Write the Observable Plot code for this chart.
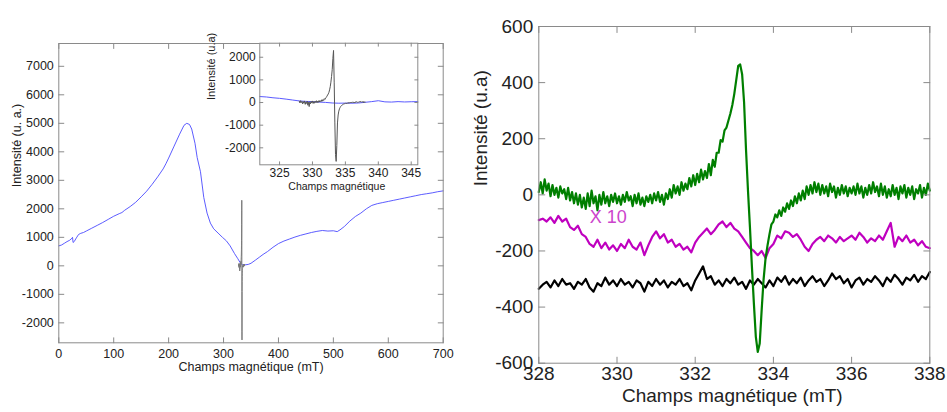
<!DOCTYPE html>
<html><head><meta charset="utf-8">
<script src="https://cdn.jsdelivr.net/npm/d3@7"></script>
<script src="https://cdn.jsdelivr.net/npm/@observablehq/plot@0.6"></script>
<style>
html,body{margin:0;padding:0;background:#fff;}
#wrap{position:relative;width:947px;height:412px;overflow:hidden;}
#wrap > div{position:absolute;}
</style></head><body>
<div id="wrap"><div id="main" style="left:0;top:0"></div><div id="inset" style="left:200px;top:0"></div><div id="right" style="left:460px;top:0"></div></div>
<script>
// ---------- Left panel: broad spectrum (blue) ----------
const blueField = [0,5,10,15,20,24,25,26,28,32,36,40,45,50,60,70,80,90,100,110,115,120,130,140,150,160,170,180,190,195,200,210,220,228,233,238,242,248,252,258,264,270,276,282,290,298,305,312,320,326,330,334,338,345,350,358,365,372,380,390,400,410,420,430,440,450,460,470,480,490,500,507,512,520,530,540,550,560,570,580,590,600,610,620,630,640,650,660,670,680,690,700];
const blueIntensity = [700,730,790,850,900,970,1000,820,850,980,1100,1140,1170,1220,1320,1420,1520,1630,1740,1830,1870,1950,2080,2230,2420,2620,2860,3120,3400,3580,3780,4200,4620,4930,5000,4960,4800,4300,3800,3300,2400,1850,1500,1300,1150,1000,880,700,430,250,120,40,30,50,90,200,300,400,500,650,780,870,940,1010,1070,1120,1170,1210,1240,1220,1230,1200,1260,1380,1570,1730,1850,2000,2120,2180,2220,2260,2300,2340,2380,2420,2460,2500,2530,2560,2600,2630];

// ---------- Inset: zoom of broad line (blue) around 322-346 mT ----------
const insetBlueField = [322,323,324,325,326,327,328,329,330,331,332,333,334,335,336,337,338,339,340,341,342,343,344,345,346];
const insetBlueIntensity = [265,245,210,185,150,110,70,50,40,20,5,-20,-30,-25,-30,-20,10,40,80,30,20,40,25,35,40];

// ---------- Narrow EPR signal (gray), 328-338 mT, step 0.1 ----------
const signalStart = 328, signalStep = 0.1;
const signalIntensity = [60,-20,80,0,50,-60,40,-30,70,-80,20,-40,60,-120,10,-180,30,-60,50,-20,70,-40,40,-30,60,0,80,-10,60,10,90,20,80,40,120,60,130,90,170,140,200,230,280,330,380,450,560,700,900,1150,1450,1950,2300,900,-900,-2300,-2600,-1900,-900,-550,-380,-280,-220,-170,-140,-110,-90,-70,-60,-50,-40,-20,-50,-10,-40,0,-30,10,-20,20,-10,30,0,20,-20,30,10,40,0,30,10,40,20,50,10,40,20,50,-10,30,20];

// ---------- Right panel ----------
const greenStart = 328, greenStep = 0.05;
const greenIntensity = [10,45,5,55,15,40,-5,35,0,25,-10,30,5,20,-15,25,-20,10,-30,5,
-35,0,-45,-10,-50,5,-40,15,-30,-5,-55,0,-35,10,-30,-5,-40,0,-25,5,
-30,-5,-35,0,-25,10,-20,-5,-40,0,-30,5,-35,-10,-40,-5,-25,0,-30,5,
-20,10,-25,0,-35,5,-15,20,-10,35,5,30,0,45,15,40,20,60,30,70,
35,75,45,90,55,85,60,110,70,125,100,150,150,195,190,230,240,265,290,320,
360,410,460,465,430,330,160,15,-115,-255,-385,-505,-560,-530,-410,-300,-225,-180,-140,-105,
-95,-70,-80,-55,-75,-45,-60,-30,-50,-20,-40,-5,-30,5,-20,15,-15,30,0,35,
5,45,10,40,0,35,5,30,-5,40,10,30,-10,25,0,35,5,30,-5,25,
5,30,0,40,5,30,-10,25,0,35,5,45,10,30,-5,40,0,30,-10,20,
-5,35,0,25,-15,30,5,35,-10,25,0,30,-15,20,5,35,-10,25,0,40,15];

const otherStart = 328, otherStep = 0.1;
const magentaIntensity = [-90,-85,-95,-80,-100,-75,-95,-85,-115,-125,
-110,-140,-150,-175,-185,-160,-190,-170,-195,-180,
-200,-175,-190,-160,-185,-195,-170,-215,-180,-150,
-130,-155,-140,-170,-160,-185,-175,-195,-185,-205,
-170,-150,-135,-120,-140,-125,-105,-95,-115,-100,
-120,-130,-150,-170,-190,-200,-215,-200,-225,-190,
-175,-145,-155,-130,-135,-150,-140,-160,-185,-200,
-175,-160,-150,-165,-145,-155,-170,-150,-165,-155,
-145,-160,-135,-150,-170,-155,-165,-145,-160,-130,
-100,-185,-150,-165,-145,-170,-160,-180,-165,-185,-190];
const blackIntensity = [-335,-320,-310,-330,-305,-325,-300,-320,-315,-335,
-310,-320,-300,-330,-345,-315,-325,-295,-320,-305,
-325,-300,-320,-310,-330,-305,-315,-345,-310,-325,
-300,-320,-305,-330,-310,-320,-300,-325,-315,-340,
-305,-280,-255,-300,-290,-320,-305,-325,-300,-315,
-295,-320,-310,-335,-305,-320,-300,-315,-330,-305,
-325,-295,-310,-290,-320,-300,-315,-295,-325,-305,
-290,-310,-300,-325,-305,-280,-300,-290,-315,-300,
-330,-305,-295,-320,-300,-310,-290,-305,-325,-295,
-310,-285,-300,-320,-295,-305,-285,-310,-290,-300,-275];
const x10Label = {text: "X 10", field: 329.3, intensity: -80};

// tick values
const mainXTicks = [0,100,200,300,400,500,600,700];
const mainYTicks = [-2000,-1000,0,1000,2000,3000,4000,5000,6000,7000];
const insetXTicks = [325,330,335,340,345];
const insetYTicks = [-2000,-1000,0,1000,2000];
const rightXTicks = [328,330,332,334,336,338];
const rightYTicks = [-600,-400,-200,0,200,400,600];

const FONT = '"Liberation Sans", Arial, Helvetica, sans-serif';
const FRAME = "#8a8a8a";
const TEXT = "#222";

const tickShape = {draw(ctx, l) { ctx.moveTo(0, 0); ctx.lineTo(0, -l); }};
function frameTicks(xt, yt, len) {
  const o = {length: len, anchor: "start", shape: tickShape, stroke: FRAME, strokeWidth: 1};
  return [
    Plot.vector(xt, {...o, x: d => d, frameAnchor: "bottom", rotate: 0}),
    Plot.vector(xt, {...o, x: d => d, frameAnchor: "top", rotate: 180}),
    Plot.vector(yt, {...o, y: d => d, frameAnchor: "left", rotate: 90}),
    Plot.vector(yt, {...o, y: d => d, frameAnchor: "right", rotate: 270})
  ];
}
const sx = (start, step) => (d, i) => +(start + i * step).toFixed(3);

// ---------- main left plot ----------
const main = Plot.plot({
  width: 460, height: 380,
  marginLeft: 58.3, marginRight: 17.3, marginTop: 43, marginBottom: 37.7,
  x: {domain: [0, 700], label: null},
  y: {domain: [-2700, 7800], label: null},
  style: {fontFamily: FONT, fontSize: "12.5px", color: TEXT, background: "transparent", overflow: "visible"},
  marks: [
    Plot.line(blueIntensity, {x: blueField, y: d => d, stroke: "#4a4aff", strokeWidth: 0.9}),
    Plot.line(signalIntensity, {x: sx(signalStart, signalStep), y: d => d, stroke: "#7a7a7a", strokeWidth: 1}),
    Plot.frame({stroke: FRAME}),
    ...frameTicks(mainXTicks, mainYTicks, 5),
    Plot.axisX(mainXTicks, {tickSize: 0, tickPadding: 6, tickFormat: String, label: null}),
    Plot.axisY(mainYTicks, {tickSize: 0, tickPadding: 5, tickFormat: String, label: null}),
    Plot.text(["Champs magnétique (mT)"], {text: d => d, frameAnchor: "bottom", dy: 27.7, fontSize: 12.5}),
    Plot.text(["Intensité (u. a.)"], {text: d => d, frameAnchor: "left", rotate: -90, dx: -41.8, dy: -6, fontSize: 12.5})
  ]
});
document.getElementById("main").append(main);

// ---------- inset ----------
const inset = Plot.plot({
  width: 230, height: 200,
  marginLeft: 59.3, marginRight: 12.7, marginTop: 42.7, marginBottom: 35.7,
  x: {domain: [322, 346], label: null},
  y: {domain: [-2750, 2620], label: null},
  style: {fontFamily: FONT, fontSize: "12px", color: TEXT, background: "transparent", overflow: "visible"},
  marks: [
    Plot.frame({fill: "white"}),
    Plot.line(insetBlueIntensity, {x: insetBlueField, y: d => d, stroke: "#5a5aff", strokeWidth: 1}),
    Plot.line(signalIntensity, {x: sx(signalStart, signalStep), y: d => d, stroke: "#555", strokeWidth: 1}),
    Plot.frame({stroke: FRAME}),
    ...frameTicks(insetXTicks, insetYTicks, 3),
    Plot.axisX(insetXTicks, {tickSize: 0, tickPadding: 4, tickFormat: String, label: null}),
    Plot.axisY(insetYTicks, {tickSize: 0, tickPadding: 4, tickFormat: String, label: null}),
    Plot.text(["Champs magnétique"], {text: d => d, frameAnchor: "bottom", dy: 25.5, dx: -2, fontSize: 10.5}),
    Plot.text(["Intensité (u.a)"], {text: d => d, frameAnchor: "left", rotate: -90, dx: -48.6, dy: -4, fontSize: 11})
  ]
});
document.getElementById("inset").append(inset);

// ---------- right plot ----------
const right = Plot.plot({
  width: 487, height: 412,
  marginLeft: 78.3, marginRight: 17.7, marginTop: 26, marginBottom: 49.3,
  x: {domain: [328, 338], label: null},
  y: {domain: [-600, 600], label: null},
  style: {fontFamily: FONT, fontSize: "19px", color: TEXT, background: "transparent", overflow: "visible"},
  marks: [
    Plot.line(blackIntensity, {x: sx(otherStart, otherStep), y: d => d, stroke: "#000", strokeWidth: 2.2}),
    Plot.line(magentaIntensity, {x: sx(otherStart, otherStep), y: d => d, stroke: "#bf00bf", strokeWidth: 2.2}),
    Plot.line(greenIntensity, {x: sx(greenStart, greenStep), y: d => d, stroke: "#007f00", strokeWidth: 2.2}),
    Plot.text([x10Label], {x: "field", y: "intensity", text: "text", textAnchor: "start", fill: "#cc44cc", fontSize: 18}),
    Plot.frame({stroke: FRAME}),
    ...frameTicks(rightXTicks, rightYTicks, 6),
    Plot.axisX(rightXTicks, {tickSize: 0, tickPadding: 3, tickFormat: String, label: null}),
    Plot.axisY(rightYTicks, {tickSize: 0, tickPadding: 5.6, tickFormat: String, label: null}),
    Plot.text(["Champs magnétique (mT)"], {text: d => d, frameAnchor: "bottom", dy: 38.3, dx: -2, fontSize: 19}),
    Plot.text(["Intensité (u.a)"], {text: d => d, frameAnchor: "left", rotate: -90, dx: -57.6, dy: -8.6, fontSize: 19})
  ]
});
document.getElementById("right").append(right);
</script>
</body></html>
